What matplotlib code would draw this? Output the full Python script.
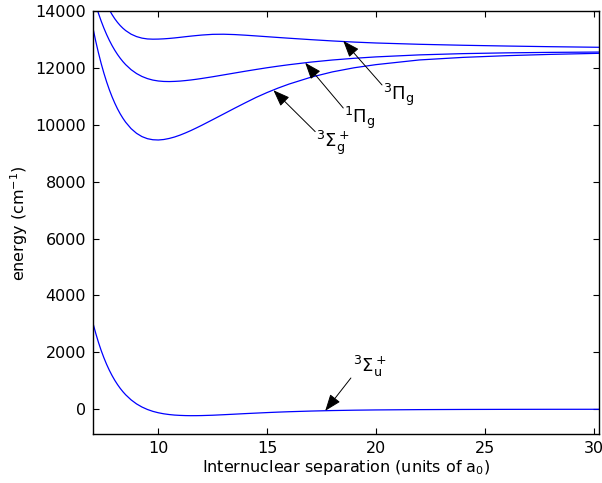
import matplotlib
matplotlib.use('Agg')
import matplotlib.pyplot as plt

# separation in units of a0
r = [7.0, 7.125, 7.25, 7.375, 7.5, 7.625, 7.75, 7.875, 8.0, 8.125, 8.25, 8.375, 8.5,
     8.75, 9.0, 9.25, 9.5, 9.75, 10.0, 10.25, 10.5, 10.75, 11.0, 11.25, 11.5, 11.75, 12.0,
     12.5, 13.0, 13.5, 14.0, 14.5, 15.0, 15.5, 16.0,
     17.0, 18.0, 19.0, 20.0, 22.0, 24.0, 26.0, 28.0, 30.25]

# energies in cm^-1
sigma_u = [3024, 2671, 2353, 2067, 1811, 1579, 1372, 1186, 1019, 870, 736, 617, 510,
           331, 189, 79, -7, -73, -122, -159, -185, -204, -215, -222, -225, -224, -221,
           -209, -191, -172, -152, -134, -116, -100, -86,
           -63, -45, -32, -23, -12, -6, -3, -1, 0]
sigma_g = [13393, 12940, 12529, 12155, 11816, 11510, 11233, 10985, 10762, 10562, 10385, 10229, 10091,
           9866, 9701, 9585, 9512, 9475, 9466, 9483, 9520, 9572, 9638, 9715, 9799, 9890, 9984,
           10181, 10380, 10580, 10775, 10965, 11135, 11290, 11430,
           11670, 11860, 12005, 12115, 12280, 12370, 12430, 12475, 12513]
pi_g1 = [14550, 14220, 13919, 13646, 13398, 13173, 12970, 12786, 12621, 12473, 12340, 12221, 12115,
         11938, 11802, 11699, 11624, 11572, 11540, 11524, 11520, 11526, 11537, 11555, 11576, 11601, 11629,
         11689, 11754, 11819, 11884, 11946, 12006, 12061, 12112,
         12203, 12278, 12338, 12387, 12458, 12502, 12529, 12546, 12557]

r_pi3 = [7.5, 7.625, 7.75, 7.875, 8.0, 8.125, 8.25, 8.375, 8.5,
         8.75, 9.0, 9.25, 9.5, 9.75, 10.0, 10.25, 10.5, 10.75, 11.0, 11.25, 11.5, 11.75, 12.0,
         12.5, 13.0, 13.5, 14.0, 14.5, 15.0, 15.5, 16.0,
         17.0, 18.0, 19.0, 20.0, 22.0, 24.0, 26.0, 28.0, 30.25]
pi_g3 = [14452, 14234, 14043, 13875, 13728, 13600, 13489, 13394, 13313,
         13186, 13101, 13047, 13018, 13010, 13013, 13022, 13036, 13054, 13075, 13097, 13118, 13137, 13155,
         13180, 13184, 13172, 13150, 13124, 13097, 13070, 13044,
         12994, 12948, 12908, 12876, 12830, 12796, 12769, 12746, 12725]

# state labels: (text, arrow head, arrow tail)
labels = [
    (r'$^3\Pi_\mathrm{g}$', (18.5, 12950), (20.28, 11400)),
    (r'$^1\Pi_\mathrm{g}$', (16.75, 12180), (18.5, 10590)),
    (r'$^3\Sigma_\mathrm{g}^+$', (15.29, 11215), (17.21, 9760)),
]
label_u = (r'$^3\Sigma_\mathrm{u}^+$', (17.67, -55), (18.85, 1100))

plt.rcParams['font.family'] = ['DejaVu Sans']
plt.rcParams['mathtext.fontset'] = 'dejavusans'

fig = plt.figure(figsize=(6.02, 4.83), dpi=100)
ax = fig.add_axes([0.1545, 0.1008, 0.8405, 0.8764])

for yv, xv in [(sigma_u, r), (sigma_g, r), (pi_g1, r), (pi_g3, r_pi3)]:
    ax.plot(xv, yv, color='blue', linewidth=0.9)

arrow = dict(arrowstyle='-|>,head_length=0.85,head_width=0.32', color='black',
             lw=0.7, mutation_scale=12, shrinkA=0, shrinkB=0)
for txt, head, tail in labels:
    ax.annotate('', xy=head, xytext=tail, arrowprops=arrow)
    ax.text(tail[0] + 0.05, tail[1] + 100, txt, fontsize=13, ha='left', va='top')

txt, head, tail = label_u
ax.annotate('', xy=head, xytext=tail, arrowprops=arrow)
ax.text(tail[0] + 0.1, tail[1] - 50, txt, fontsize=13, ha='left', va='bottom')

ax.set_xlim(7, 30.25)
ax.set_ylim(-880, 14000)
ax.set_xticks([10, 15, 20, 25, 30])
ax.set_yticks(range(0, 14001, 2000))
ax.tick_params(direction='in', top=True, right=True, length=4, width=0.8,
               labelsize=11.5, pad=5)
for s in ax.spines.values():
    s.set_linewidth(1.0)

ax.set_xlabel(r'Internuclear separation (units of a$_0$)', fontsize=11.5, labelpad=1)
ax.set_ylabel(r'energy (cm$^{-1}$)', fontsize=11.5)

fig.savefig('out.png', dpi=100)
